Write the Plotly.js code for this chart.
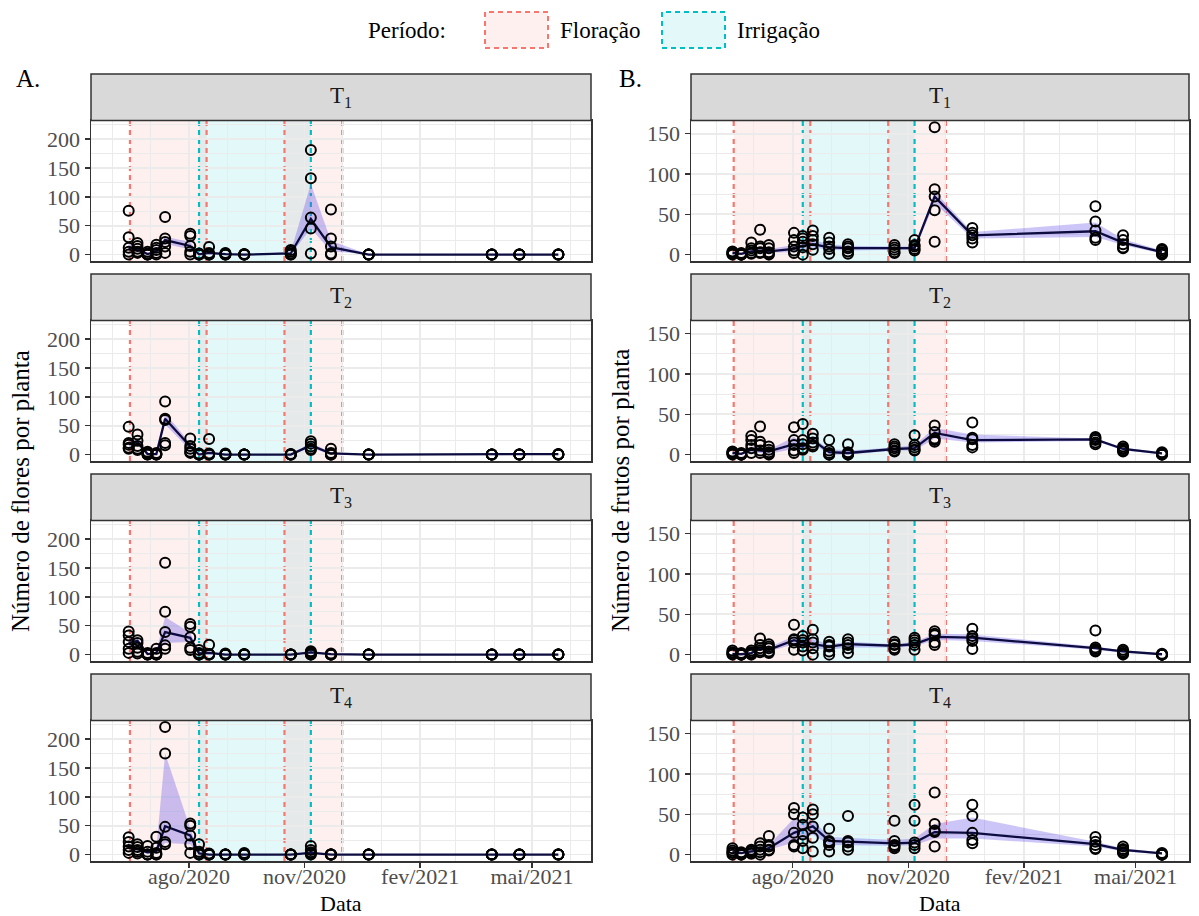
<!DOCTYPE html>
<html>
<head>
<meta charset="utf-8">
<script src="https://cdn.plot.ly/plotly-3.0.1.min.js"></script>
<style>html,body{margin:0;padding:0;background:#fff}#chart{width:1199px;height:916px}</style>
</head>
<body>
<div id="chart"></div>
<script>
// ---------------- DATA ----------------
const dates = ['2020-06-14','2020-06-21','2020-06-29','2020-07-06','2020-07-13','2020-08-02','2020-08-09','2020-08-17','2020-08-30','2020-09-14','2020-10-21','2020-11-06','2020-11-22','2020-12-22','2021-03-30','2021-04-21','2021-05-22'];

const treatments = ['T<sub>1</sub>','T<sub>2</sub>','T<sub>3</sub>','T<sub>4</sub>'];
const xTickVals = ['2020-08-01','2020-11-01','2021-02-01','2021-05-01'];
const xTickText = ['ago/2020','nov/2020','fev/2021','mai/2021'];
const monthGrid = ['2020-05-01','2020-06-01','2020-07-01','2020-08-01','2020-09-01','2020-10-01','2020-11-01','2020-12-01','2021-01-01','2021-02-01','2021-03-01','2021-04-01','2021-05-01','2021-06-01','2021-07-01'];

const floracao1 = ['2020-06-15','2020-08-15'];
const floracao2 = ['2020-10-16','2020-12-01'];
const irrigacao = ['2020-08-09','2020-11-06'];

// Flowers (A) - individual plants per date
const flowT1 = [[76,30,12,5,0],[20,15,10,5,3],[5,2,0,0,0],[17,12,8,3,0],[65,28,22,14,3],[36,32,15,5,0],[2,1,0,0,0],[13,3,0,0,0],[3,2,0,0,0],[1,0,0,0,0],[8,5,2,0,0],[181,132,64,45,2],[78,28,14,2,0],[0,0,0,0,0],[0,0,0,0,0],[0,0,0,0,0],[0,0,0,0,0]];
const flowT2 = [[48,20,17,12,10],[35,24,15,10,8],[5,3,1,0,0],[3,1,0,0,0],[92,62,60,20,16],[28,15,10,5,3],[2,0,0,0,0],[27,2,0,0,0],[2,0,0,0,0],[0,0,0,0,0],[1,0,0,0,0],[23,19,14,10,8],[10,3,0,0,0],[0,0,0,0,0],[0,0,0,0,0],[0,0,0,0,0],[1,0,0,0,0]];
const flowT3 = [[40,33,22,10,3],[25,20,12,5,2],[3,1,0,0,0],[10,3,0,0,0],[159,74,39,16,10],[53,48,30,12,8],[8,3,0,0,0],[17,1,0,0,0],[2,0,0,0,0],[1,0,0,0,0],[0,0,0,0,0],[6,4,2,0,0],[2,0,0,0,0],[0,0,0,0,0],[0,0,0,0,0],[0,0,0,0,0],[0,0,0,0,0]];
const flowT4 = [[30,22,14,8,3],[18,13,8,5,2],[15,5,0,0,0],[31,12,3,0,0],[221,175,48,22,18],[54,50,33,18,3],[18,5,2,0,0],[2,0,0,0,0],[0,0,0,0,0],[3,1,0,0,0],[0,0,0,0,0],[15,8,4,2,0],[0,0,0,0,0],[0,0,0,0,0],[0,0,0,0,0],[0,0,0,0,0],[0,0,0,0,0]];

const flowT1Mid = [12,9,1,5,25,15,0.5,3,1,0,2,62,13,0,0,0,0];
const flowT1Lo  = [7,5,0,2,19,9,0,0,0,0,0,45,6,0,0,0,0];
const flowT1Hi  = [20,14,2,9,31,22,1,6,2,0,5,122,24,0,0,0,0];
const flowT2Mid = [18,22,1,1,62,14,0,3,0,0,0,16,2,0,0,0,1];
const flowT2Lo  = [13,16,0,0,52,8,0,0,0,0,0,12,0,0,0,0,0];
const flowT2Hi  = [24,28,2,2,72,20,1,6,0,0,0,20,4,0,0,0,1];
const flowT3Mid = [20,24,1,3,39,29,2,3,0,0,0,4,1,0,0,0,0];
const flowT3Lo  = [13,17,0,1,20,22,0,0,0,0,0,2,0,0,0,0,0];
const flowT3Hi  = [28,30,2,6,65,38,4,6,1,0,0,6,2,0,0,0,0];
const flowT4Mid = [14,9,4,6,49,33,2,0,0,0,0,3,0,0,0,0,0];
const flowT4Lo  = [8,5,1,2,20,18,0,0,0,0,0,1,0,0,0,0,0];
const flowT4Hi  = [20,13,8,12,175,45,4,1,0,0,0,6,0,0,0,0,0];

// Fruits (B) - individual plants per date
const fruitT1 = [[4,3,2,1,0],[2,1,0,0,0],[15,8,5,2,1],[31,10,8,3,2],[12,8,3,1,0],[27,18,10,5,2],[23,20,16,9,0],[30,23,18,13,6],[21,15,10,7,1],[13,10,8,4,1],[12,9,6,3,2],[18,12,10,7,5],[158,81,72,55,16],[33,27,24,20,15],[60,41,30,21,18],[24,18,13,9,8],[7,5,3,1,0]];
const fruitT2 = [[4,3,2,1,0],[2,1,0,0,0],[23,18,12,8,2],[35,16,12,5,2],[10,6,3,1,0],[34,18,12,5,2],[38,18,13,8,6],[26,20,15,12,10],[18,5,2,0,0],[13,3,1,0,0],[13,10,8,5,4],[24,12,9,6,5],[36,28,20,18,16],[40,21,19,12,9],[22,20,18,15,13],[10,8,7,5,4],[3,2,1,0,0]];
const fruitT3 = [[5,3,2,1,0],[2,1,0,0,0],[5,3,2,1,0],[20,12,8,5,3],[13,10,8,4,2],[37,19,18,15,6],[23,18,15,10,5],[31,19,15,8,0],[16,12,10,4,0],[19,15,12,8,2],[16,13,12,8,6],[21,18,15,12,6],[29,26,24,15,12],[32,23,20,17,7],[30,9,7,5,4],[6,4,2,1,0],[1,0,0,0,0]];
const fruitT4 = [[8,5,3,2,0],[3,2,1,0,0],[6,5,4,2,1],[14,10,6,3,0],[23,12,10,6,5],[58,50,27,12,10],[46,37,25,17,8],[56,50,35,21,4],[32,17,15,12,4],[48,17,15,10,6],[42,17,12,10,8],[62,42,15,12,8],[77,38,30,28,10],[62,48,27,18,14],[22,16,12,8,7],[10,7,5,3,2],[2,1,0,0,0]];

const fruitT1Mid = [2,1,4,5,4,7,11,13,9,8,8,8,72,24,29,15,3];
const fruitT1Lo  = [1,0,2,2,2,3,7,9,6,5,6,6,64,20,22,12,1];
const fruitT1Hi  = [3,2,7,10,7,12,16,18,13,11,10,10,78,28,40,19,5];
const fruitT2Mid = [2,1,6,5,4,13,10,18,3,2,7,8,27,18,19,7,1.5];
const fruitT2Lo  = [1,0,3,2,1,7,7,14,0,0,5,5,20,15,17,5,0.5];
const fruitT2Hi  = [3,2,10,9,6,22,15,21,7,5,9,12,33,25,20,9,2.5];
const fruitT3Mid = [1,0.5,2,8,6,18,15,13,10,13,11,13,22,21,8,4,0.5];
const fruitT3Lo  = [0,0,1,5,4,13,11,8,6,9,9,10,18,17,6,2,0];
const fruitT3Hi  = [2,1,3,12,9,23,19,19,13,16,13,16,26,25,10,5,1];
const fruitT4Mid = [3,2,4,5,8,27,31,35,17,16,14,15,28,27,13,6,1.5];
const fruitT4Lo  = [1,1,2,3,6,15,20,25,12,12,11,12,20,20,10,4,0.5];
const fruitT4Hi  = [5,3,6,8,12,45,40,43,22,21,18,20,38,46,16,8,2.5];

// ---------------- LAYOUT HELPERS ----------------
const W = 1199, H = 916;
const px = v => v / W;
const py = v => 1 - v / H;
const FONT = 'Liberation Serif, Times New Roman, serif';

const cols = [
  {x0: 91, x1: 591, range: ['2020-05-15', '2021-06-17'], yRange: [-11.05, 232.05], yTicks: [0,50,100,150,200], yMinor: [25,75,125,175,225],
   ytitle: 'Número de flores por planta', tag: 'A.', tagX: 14,
   series: [[flowT1, flowT1Mid, flowT1Lo, flowT1Hi],[flowT2, flowT2Mid, flowT2Lo, flowT2Hi],[flowT3, flowT3Mid, flowT3Lo, flowT3Hi],[flowT4, flowT4Mid, flowT4Lo, flowT4Hi]]},
  {x0: 691, x1: 1189, range: ['2020-05-12', '2021-06-12 12:00'], yRange: [-7.9, 166.4], yTicks: [0,50,100,150], yMinor: [25,75,125],
   ytitle: 'Número de frutos por planta', tag: 'B.', tagX: 617,
   series: [[fruitT1, fruitT1Mid, fruitT1Lo, fruitT1Hi],[fruitT2, fruitT2Mid, fruitT2Lo, fruitT2Hi],[fruitT3, fruitT3Mid, fruitT3Lo, fruitT3Hi],[fruitT4, fruitT4Mid, fruitT4Lo, fruitT4Hi]]}
];

const traces = [];
const shapes = [];
const annotations = [];
const layout = {
  width: W, height: H, margin: {l: 0, r: 0, t: 0, b: 0},
  paper_bgcolor: '#ffffff', plot_bgcolor: '#ffffff',
  showlegend: false, font: {family: FONT, color: '#000'},
};

const RED = '#F8766D', CYAN = '#00BFC4';
const redFill = 'rgba(248,118,109,0.11)';
const cyanFill = 'rgba(0,191,196,0.11)';

let k = 0;
cols.forEach((c, ci) => {
  for (let r = 0; r < 4; r++) {
    k++;
    const xa = 'xaxis' + (k === 1 ? '' : k), ya = 'yaxis' + (k === 1 ? '' : k);
    const xr = 'x' + (k === 1 ? '' : k), yr = 'y' + (k === 1 ? '' : k);
    const top = 120.5 + 200 * r, bot = 261 + 200 * r;
    const bottomRow = r === 3;
    layout[xa] = {
      domain: [px(c.x0), px(c.x1)], anchor: yr, type: 'date', range: c.range,
      tickmode: 'array', tickvals: xTickVals, ticktext: xTickText,
      showticklabels: bottomRow, ticks: bottomRow ? 'outside' : '', ticklen: 5, tickwidth: 1.4, tickcolor: '#333333',
      ticklabelstandoff: -10,
      tickfont: {family: FONT, size: 22, color: '#4D4D4D'},
      showgrid: true, gridcolor: '#EBEBEB', gridwidth: 1.7,
      minor: {tickmode: 'array', tickvals: monthGrid, showgrid: true, gridcolor: '#EBEBEB', gridwidth: 1.0, ticks: ''},
      showline: true, mirror: true, linecolor: '#333333', linewidth: 1.5, zeroline: false, fixedrange: true
    };
    layout[ya] = {
      domain: [py(bot), py(top)], anchor: xr, range: c.yRange,
      tickmode: 'array', tickvals: c.yTicks, ticks: 'outside', ticklen: 5, tickwidth: 1.4, tickcolor: '#333333',
      tickfont: {family: FONT, size: 22, color: '#4D4D4D'},
      showgrid: true, gridcolor: '#EBEBEB', gridwidth: 1.7,
      minor: {tickmode: 'array', tickvals: c.yMinor, showgrid: true, gridcolor: '#EBEBEB', gridwidth: 1.0, ticks: ''},
      showline: true, mirror: true, linecolor: '#333333', linewidth: 1.5, zeroline: false, fixedrange: true
    };

    // period rectangles and dashed boundary lines
    [[floracao1, redFill], [irrigacao, cyanFill], [floracao2, redFill]].forEach(([p, f]) => {
      shapes.push({type: 'rect', xref: xr, yref: yr + ' domain', x0: p[0], x1: p[1], y0: 0, y1: 1,
        fillcolor: f, line: {width: 0}, layer: 'below'});
    });
    [[floracao1, RED], [irrigacao, CYAN], [floracao2, RED]].forEach(([p, col]) => {
      p.forEach(d => shapes.push({type: 'line', xref: xr, yref: yr + ' domain', x0: d, x1: d, y0: 0, y1: 1,
        line: {color: col, width: 2.2, dash: '5px,4px'}, layer: 'below'}));
    });

    // strip
    shapes.push({type: 'rect', xref: 'paper', yref: 'paper', x0: px(c.x0), x1: px(c.x1), y0: py(top), y1: py(74 + 200 * r),
      fillcolor: '#D9D9D9', line: {color: '#333333', width: 1.5}});
    annotations.push({xref: 'paper', yref: 'paper', x: px((c.x0 + c.x1) / 2), y: py(97 + 200 * r), text: treatments[r],
      showarrow: false, font: {family: FONT, size: 23, color: '#1A1A1A'}, xanchor: 'center', yanchor: 'middle'});

    const [pts, mid, lo, hi] = c.series[r];
    // ribbon
    traces.push({type: 'scatter', mode: 'lines', xaxis: xr, yaxis: yr,
      x: dates.concat(dates.slice().reverse()), y: hi.concat(lo.slice().reverse()),
      fill: 'toself', fillcolor: 'rgba(95,75,232,0.32)', line: {width: 0}, hoverinfo: 'skip'});
    // central line
    traces.push({type: 'scatter', mode: 'lines', xaxis: xr, yaxis: yr, x: dates, y: mid,
      line: {color: '#0C0C40', width: 2.3}});
    // points
    const px_ = [], py_ = [];
    pts.forEach((vals, i) => vals.forEach(v => { px_.push(dates[i]); py_.push(v); }));
    traces.push({type: 'scatter', mode: 'markers', xaxis: xr, yaxis: yr, x: px_, y: py_,
      marker: {symbol: 'circle-open', size: 10, color: '#000000', line: {width: 2, color: '#000000'}}});
  }
  // y axis title
  annotations.push({xref: 'paper', yref: 'paper', x: px(c.x0 - 70), y: py(491), text: c.ytitle, textangle: -90,
    showarrow: false, font: {family: FONT, size: 25, color: '#000'}, xanchor: 'center', yanchor: 'middle'});
  // x axis title
  annotations.push({xref: 'paper', yref: 'paper', x: px((c.x0 + c.x1) / 2), y: py(903), text: 'Data',
    showarrow: false, font: {family: FONT, size: 22, color: '#000'}, xanchor: 'center', yanchor: 'middle'});
  // panel tag
  annotations.push({xref: 'paper', yref: 'paper', x: px(c.tagX), y: py(78), text: c.tag,
    showarrow: false, font: {family: FONT, size: 25, color: '#000'}, xanchor: 'left', yanchor: 'middle'});
});

// legend (top)
annotations.push({xref: 'paper', yref: 'paper', x: px(448), y: py(30), text: 'Período:', showarrow: false,
  font: {family: FONT, size: 23, color: '#000'}, xanchor: 'right', yanchor: 'middle'});
[[485, 548, redFill, RED, 'Floração'], [662, 725, cyanFill, CYAN, 'Irrigação']].forEach(([a, b, f, col, t]) => {
  shapes.push({type: 'rect', xref: 'paper', yref: 'paper', x0: px(a), x1: px(b), y0: py(48), y1: py(12),
    fillcolor: f, line: {color: col, width: 2, dash: '5px,4px'}});
  annotations.push({xref: 'paper', yref: 'paper', x: px(b + 10), y: py(30), text: t, showarrow: false,
    font: {family: FONT, size: 23, color: '#000'}, xanchor: 'left', yanchor: 'middle'});
});

layout.shapes = shapes;
layout.annotations = annotations;
Plotly.newPlot('chart', traces, layout, {staticPlot: true, displayModeBar: false});
</script>
</body>
</html>
